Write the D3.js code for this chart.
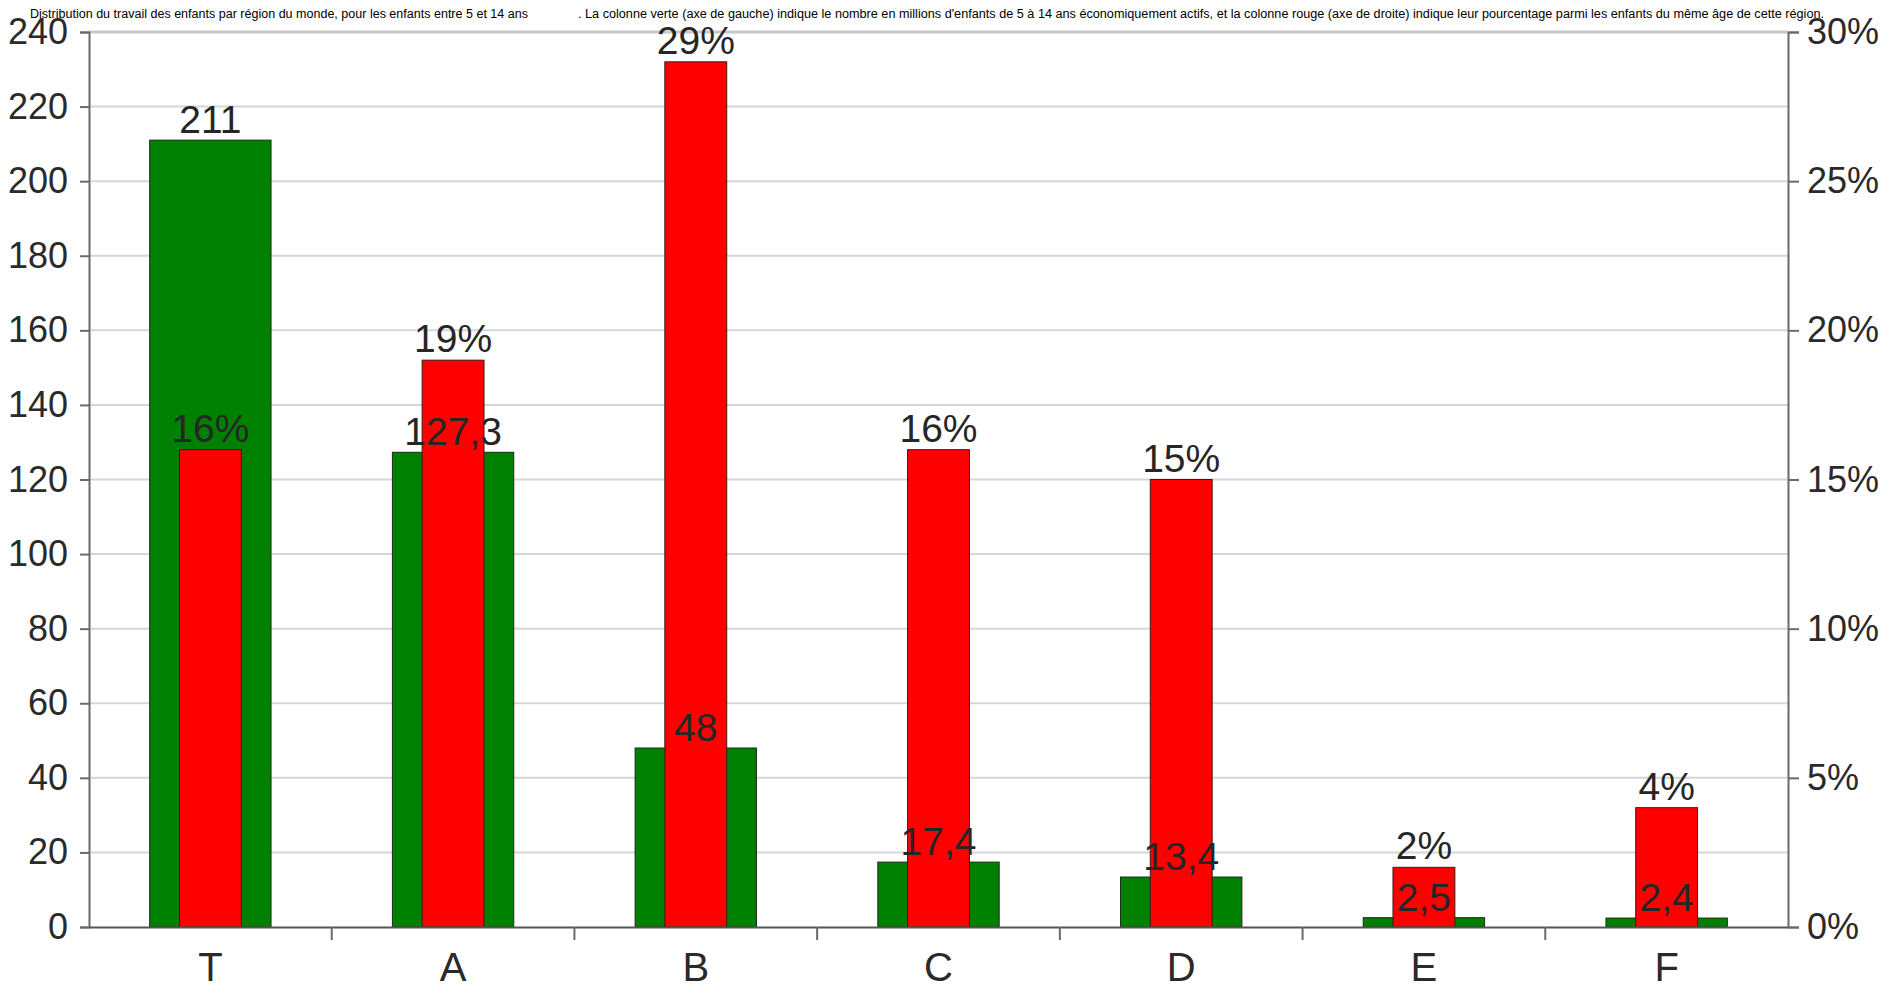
<!DOCTYPE html>
<html lang="fr">
<head>
  <meta charset="UTF-8">
  <title>Travail des enfants par région</title>
  <script src="https://d3js.org/d3.v7.min.js"></script>
  <style>
    body { margin: 0; background: #fff; }
    text { font-family: "Liberation Sans", Arial, sans-serif; }
  </style>
</head>
<body>
  <div id="chart"></div>

  <script>
    // Data
    const categories = ["T", "A", "B", "C", "D", "E", "F"];
    const childrenMillions = [211, 127.3, 48, 17.4, 13.4, 2.5, 2.4];
    const sharePercent = [16, 19, 29, 16, 15, 2, 4];
    const leftTicks = [0, 20, 40, 60, 80, 100, 120, 140, 160, 180, 200, 220, 240];
    const rightTicks = [0, 5, 10, 15, 20, 25, 30];
    const titlePart1 = "Distribution du travail des enfants par région du monde, pour les enfants entre 5 et 14 ans";
    const titlePart2 = ". La colonne verte (axe de gauche) indique le nombre en millions d'enfants de 5 à 14 ans économiquement actifs, et la colonne rouge (axe de droite) indique leur pourcentage parmi les enfants du même âge de cette région.";

    const W = 1884, H = 995;
    const plotLeft = 89, plotRight = 1788, plotTop = 32, plotBottom = 927;

    const svg = d3.select("#chart").append("svg")
      .attr("width", W)
      .attr("height", H);

    const x = d3.scaleBand().domain(categories).range([plotLeft, plotRight]).padding(0);
    const yL = d3.scaleLinear().domain([0, 240]).range([plotBottom, plotTop]);
    const yR = d3.scaleLinear().domain([0, 30]).range([plotBottom, plotTop]);

    const fmtNum = v => String(v).replace(".", ",");

    // gridlines
    svg.append("g")
      .selectAll("line")
      .data(leftTicks.filter(d => d > 0))
      .enter().append("line")
        .attr("x1", plotLeft).attr("x2", plotRight)
        .attr("y1", d => yL(d)).attr("y2", d => yL(d))
        .attr("stroke", d => d === 240 ? "#c8c8c8" : "#d6d6d6")
        .attr("stroke-width", d => d === 240 ? 3 : 2);

    const rows = categories.map((c, i) => ({ cat: c, n: childrenMillions[i], p: sharePercent[i] }));
    const gw = x.bandwidth() * 0.5;
    const rw = x.bandwidth() * 0.255;
    const cx = d => x(d.cat) + x.bandwidth() / 2;

    // green bars (left axis)
    svg.append("g").selectAll("rect")
      .data(rows)
      .enter().append("rect")
        .attr("x", d => cx(d) - gw / 2)
        .attr("y", d => yL(d.n))
        .attr("width", gw)
        .attr("height", d => plotBottom - yL(d.n))
        .attr("fill", "#008000")
        .attr("stroke", "#1a2a1a")
        .attr("stroke-width", 1);

    // red bars (right axis)
    svg.append("g").selectAll("rect")
      .data(rows)
      .enter().append("rect")
        .attr("x", d => cx(d) - rw / 2)
        .attr("y", d => yR(d.p))
        .attr("width", rw)
        .attr("height", d => plotBottom - yR(d.p))
        .attr("fill", "#ff0000")
        .attr("stroke", "#3a1a1a")
        .attr("stroke-width", 1);

    // labels go on top of every bar
    svg.append("g").selectAll("text")
      .data(rows)
      .enter().append("text")
        .attr("x", cx)
        .attr("y", d => yL(d.n) - 7)
        .attr("text-anchor", "middle")
        .attr("font-size", 39)
        .attr("fill", "#262626")
        .text(d => fmtNum(d.n));

    svg.append("g").selectAll("text")
      .data(rows)
      .enter().append("text")
        .attr("x", cx)
        .attr("y", d => yR(d.p) - 8)
        .attr("text-anchor", "middle")
        .attr("font-size", 39)
        .attr("fill", "#262626")
        .text(d => d.p + "%");

    // left axis
    const axL = svg.append("g")
      .attr("transform", "translate(" + plotLeft + ",0)")
      .call(d3.axisLeft(yL).tickValues(leftTicks).tickSize(9).tickSizeOuter(9).tickPadding(12));
    axL.selectAll("text").attr("font-size", 36).attr("fill", "#2a2a2a").attr("font-family", "Liberation Sans, Arial, sans-serif");

    // right axis
    const axR = svg.append("g")
      .attr("transform", "translate(" + plotRight + ",0)")
      .call(d3.axisRight(yR).tickValues(rightTicks).tickFormat(d => d + "%").tickSize(11).tickSizeOuter(11).tickPadding(8));
    axR.selectAll("text").attr("font-size", 36).attr("fill", "#2a2a2a").attr("font-family", "Liberation Sans, Arial, sans-serif");

    [axL, axR].forEach(a => {
      a.selectAll("line, path").attr("stroke", "#6a6a6a").attr("stroke-width", 2);
    });

    // bottom axis: labels at centres, ticks at category boundaries
    const axB = svg.append("g")
      .attr("transform", "translate(0," + plotBottom + ")")
      .call(d3.axisBottom(x).tickSize(0).tickSizeOuter(0).tickPadding(26));
    axB.select("path").attr("stroke", "#555").attr("stroke-width", 2);
    axB.selectAll("text").attr("font-size", 40).attr("fill", "#2a2a2a").attr("font-family", "Liberation Sans, Arial, sans-serif");

    svg.append("g").selectAll("line")
      .data(categories.slice(1))
      .enter().append("line")
        .attr("x1", d => x(d)).attr("x2", d => x(d))
        .attr("y1", plotBottom).attr("y2", plotBottom + 13)
        .attr("stroke", "#6a6a6a")
        .attr("stroke-width", 2);

    // caption on top (two pieces with a gap between them, as in the source)
    svg.append("text")
      .attr("x", 30).attr("y", 18)
      .attr("font-size", 12)
      .attr("fill", "#000")
      .attr("textLength", 498)
      .attr("lengthAdjust", "spacingAndGlyphs")
      .text(titlePart1);
    svg.append("text")
      .attr("x", 578).attr("y", 18)
      .attr("font-size", 12)
      .attr("fill", "#000")
      .attr("textLength", 1246)
      .attr("lengthAdjust", "spacingAndGlyphs")
      .text(titlePart2);
  </script>
</body>
</html>
